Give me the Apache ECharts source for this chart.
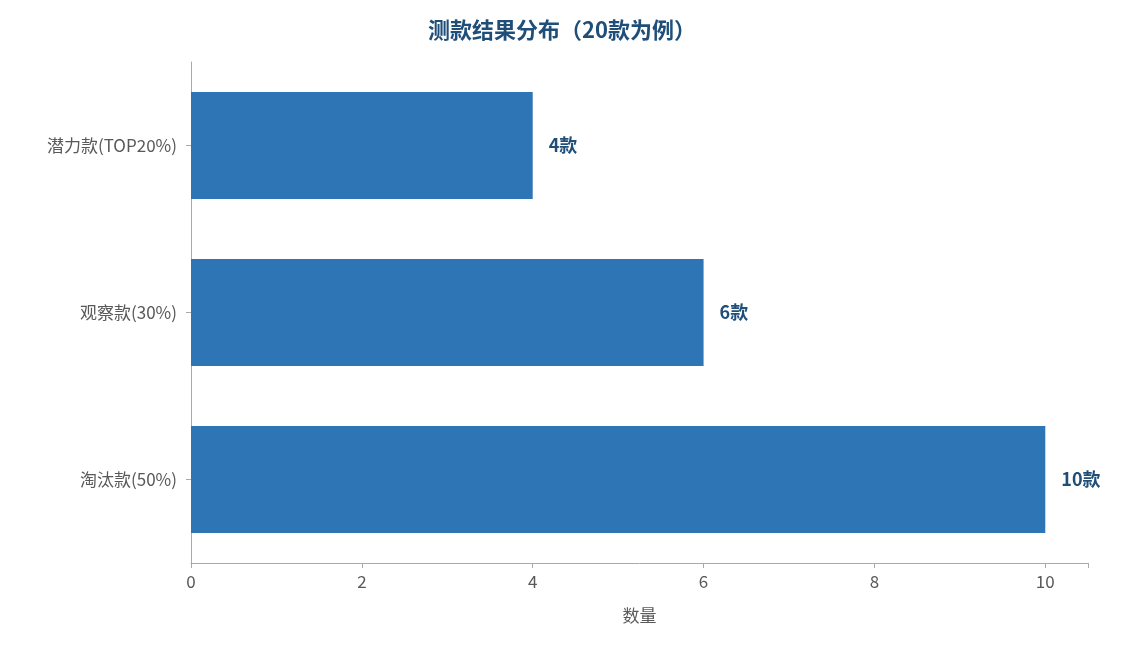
<!DOCTYPE html>
<html><head><meta charset="utf-8">
<script src="https://cdn.jsdelivr.net/npm/echarts@6/dist/echarts.min.js"></script>
<style>html,body{margin:0;padding:0;background:#fff}#c{width:1124px;height:645px}</style>
</head><body><div id="c"></div>
<script>
const categories = ['淘汰款(50%)', '观察款(30%)', '潜力款(TOP20%)'];
const values = [10, 6, 4];
const chart = echarts.init(document.getElementById('c'));
const font = '"Noto Sans CJK SC", "Noto Sans", sans-serif';
chart.setOption({
  title: {text: '测款结果分布（20款为例）', left: 'center', top: 14,
    textStyle: {color: '#1F4E79', fontSize: 22, fontWeight: 'bold', fontFamily: font}},
  grid: {left: 191, right: 36, top: 62, bottom: 82},
  xAxis: {type: 'value', min: 0, max: 10.5, interval: 2, splitLine: {show: false},
    name: '数量', nameLocation: 'middle', nameGap: 44,
    nameTextStyle: {color: '#595959', fontSize: 17, fontFamily: font},
    axisLine: {show: true, lineStyle: {color: '#aaa'}},
    axisTick: {show: true, lineStyle: {color: '#aaa'}},
    axisLabel: {color: '#595959', fontSize: 17, fontFamily: font, margin: 10,
      formatter: v => v > 10 ? '' : v}},
  yAxis: {type: 'category', data: categories,
    axisLine: {show: true, lineStyle: {color: '#aaa'}},
    axisTick: {show: true, alignWithLabel: true, lineStyle: {color: '#aaa'}},
    axisLabel: {color: '#595959', fontSize: 17, fontFamily: font, margin: 14}},
  series: [{type: 'bar', data: values, barWidth: '64%',
    itemStyle: {color: '#2E75B6'},
    label: {show: true, position: 'right', distance: 16, formatter: '{c}款',
      color: '#1F4E79', fontSize: 18, fontWeight: 'bold', fontFamily: font}}]
});
</script></body></html>
